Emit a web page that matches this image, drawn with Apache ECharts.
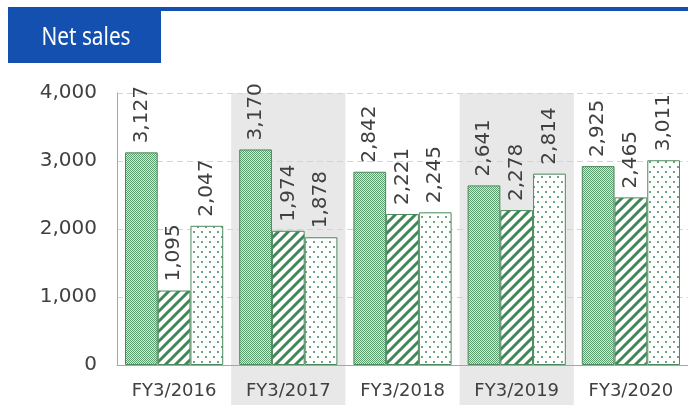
<!DOCTYPE html>
<html>
<head>
<meta charset="utf-8">
<script src="https://cdn.jsdelivr.net/npm/echarts@6/dist/echarts.min.js"></script>
<style>
  html, body { margin:0; padding:0; background:#fff; }
  #main { width:688px; height:405px; }
</style>
</head>
<body>
<div id="main"></div>
<script>
var categories = ["FY3/2016","FY3/2017","FY3/2018","FY3/2019","FY3/2020"];
var seriesA = [3127,3170,2842,2641,2925];
var seriesB = [1095,1974,2221,2278,2465];
var seriesC = [2047,1878,2245,2814,3011];
var yTicks = [0,1000,2000,3000,4000];

var green = "#3f8756";

function makeCanvas(w, h){
  var c = document.createElement("canvas");
  c.width = w; c.height = h;
  return c;
}

// checkered fill
var checker = makeCanvas(2,2);
var ctx = checker.getContext("2d");
ctx.fillStyle = "#d6e8da"; ctx.fillRect(0,0,2,2);
ctx.fillStyle = "#5c9d70"; ctx.fillRect(0,0,1,1); ctx.fillRect(1,1,1,1);

// diagonal stripes
var stripes = makeCanvas(10,10);
ctx = stripes.getContext("2d");
ctx.fillStyle = "#fff"; ctx.fillRect(0,0,10,10);
ctx.strokeStyle = green; ctx.lineWidth = 3;
ctx.beginPath();
ctx.moveTo(-5,5); ctx.lineTo(5,-5);
ctx.moveTo(0,10); ctx.lineTo(10,0);
ctx.moveTo(5,15); ctx.lineTo(15,5);
ctx.stroke();

// dots
var dots = makeCanvas(8,10);
ctx = dots.getContext("2d");
ctx.fillStyle = "#fff"; ctx.fillRect(0,0,8,10);
ctx.fillStyle = "#6fa682";
ctx.fillRect(1,1,2,2); ctx.fillRect(5,6,2,2);

var chart = echarts.init(document.getElementById("main"));

var labelStyle = {
  show:true,
  position:"top",
  rotate:90,
  align:"left",
  verticalAlign:"middle",
  distance:9,
  fontSize:20,
  fontFamily:"DejaVu Sans",
  color:"#404040",
  formatter:function(p){ return p.value.toLocaleString("en-US"); }
};

function barSeries(data, pattern){
  return {
    type:"bar",
    data:data,
    barGap:"0%",
    barCategoryGap:"14%",
    itemStyle:{
      color:{ image:pattern, repeat:"repeat" },
      borderColor:"#4a8a5c",
      borderWidth:1
    },
    label:labelStyle,
    z:3
  };
}

var option = {
  animation:false,
  textStyle:{ fontFamily:"DejaVu Sans" },
  graphic:[
    { type:"rect", shape:{ x:8, y:7, width:680, height:4 }, style:{ fill:"#1450b0" } },
    { type:"rect", shape:{ x:8, y:7, width:153, height:56 }, style:{ fill:"#1450b0" } },
    { type:"text", x:86, y:38, scaleX:0.8,
      style:{ text:"Net sales", fill:"#fff", font:"26px 'Noto Sans'", textAlign:"center", textVerticalAlign:"middle" } }
  ],
  grid:[
    { left:117, right:0, top:93, bottom:40 },
    { left:117, right:0, top:93, bottom:0 }
  ],
  xAxis:[
    {
      type:"category",
      gridIndex:0,
      data:categories,
      axisLine:{ lineStyle:{ color:"#a6a6a6" } },
      axisTick:{ show:false },
      axisLabel:{ fontSize:18, color:"#404040", margin:17 }
    },
    {
      type:"category",
      gridIndex:1,
      data:categories,
      axisLine:{ show:false },
      axisTick:{ show:false },
      axisLabel:{ show:false },
      splitArea:{ show:true, areaStyle:{ color:["rgba(0,0,0,0)","#e8e8e8"] } },
      z:-1
    }
  ],
  yAxis:[
    {
      type:"value",
      gridIndex:0,
      min:yTicks[0],
      max:yTicks[yTicks.length-1],
      interval:1000,
      axisLine:{ show:true, lineStyle:{ color:"#a6a6a6" } },
      axisTick:{ show:false },
      axisLabel:{ fontSize:20, color:"#404040", margin:20,
        formatter:function(v){ return v.toLocaleString("en-US"); } },
      splitLine:{ lineStyle:{ color:"#d4d4d4", type:[6,4] } }
    },
    {
      type:"value",
      gridIndex:1,
      show:false
    }
  ],
  series:[
    barSeries(seriesA, checker),
    barSeries(seriesB, stripes),
    barSeries(seriesC, dots)
  ]
};

chart.setOption(option);
</script>
</body>
</html>
